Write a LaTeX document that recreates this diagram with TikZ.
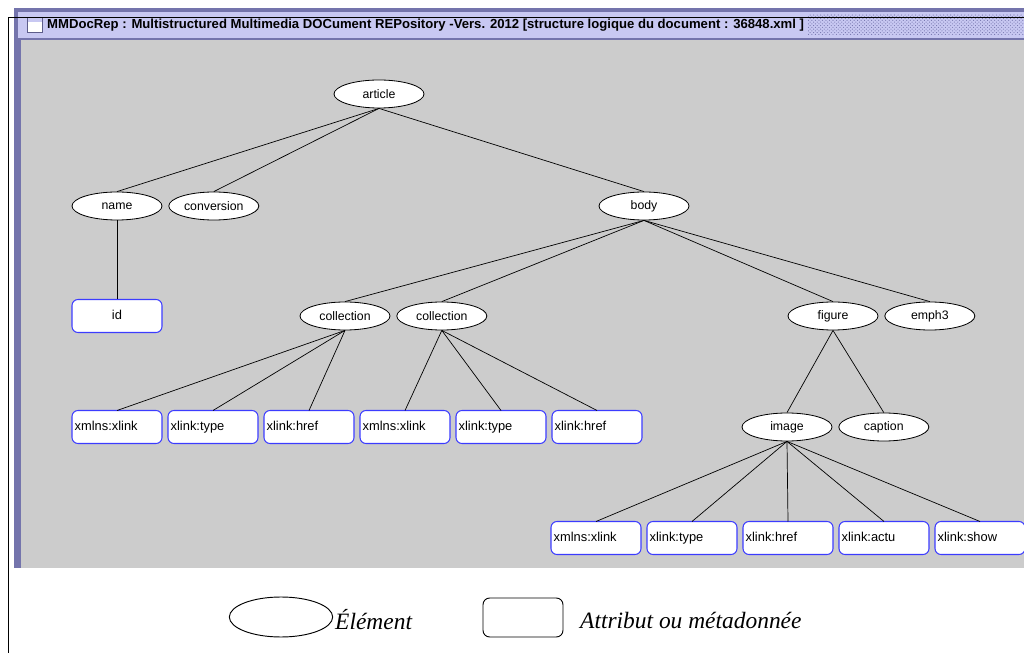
\documentclass[tikz,border=0pt]{standalone}
\usepackage{fontspec}
\setmainfont{Liberation Serif}
\setsansfont{Liberation Sans}
\usetikzlibrary{positioning,shapes.geometric,patterns}

\definecolor{wingray}{HTML}{CCCCCC}
\definecolor{winbar}{HTML}{C8C8F2}
\definecolor{winedge}{HTML}{7474AC}
\definecolor{attrblue}{HTML}{3C3CFF}

\begin{document}
\begin{tikzpicture}[
    x=0.03cm,y=-0.03cm,
    elem/.style={ellipse,draw,fill=white,line width=0.7pt,minimum width=2.7cm,minimum height=0.84cm,inner sep=0pt,font=\sffamily\fontsize{10.5}{12}\selectfont},
    attr/.style={rectangle,rounded corners=0.18cm,draw=attrblue,line width=0.9pt,fill=white,minimum width=2.7cm,minimum height=0.99cm,text width=2.54cm,inner xsep=0.08cm,outer sep=0pt,text height=1.6ex,text depth=0.4ex,align=left,font=\sffamily\fontsize{11}{12}\selectfont},
    link/.style={line width=0.6pt},
    legend/.style={font=\itshape\fontsize{20}{22}\selectfont,anchor=west,inner sep=0pt}
]
    \useasboundingbox (0,0) rectangle (1024,653);

    % Window
    \fill[winedge] (14,8) rectangle (1024,40);
    \fill[winedge] (14,8) rectangle (21.5,568);
    \fill[winbar] (18,12) rectangle (1024,38);
    \fill[pattern=crosshatch dots,pattern color=winedge] (808,15) rectangle (1024,35);
    \fill[wingray] (21,40) rectangle (1024,568);
    \draw[winedge!80!black,fill=white] (27,18) rectangle (42,32);
    \fill[winbar] (27.5,18.5) rectangle (41.5,22);
    \node[anchor=west,inner sep=0pt,font=\sffamily\bfseries\fontsize{11.2}{12}\selectfont] (title) at (47,25)
        {MMDocRep : Multistructured Multimedia DOCument REPository -Vers. 2012 [structure logique du document : 36848.xml ]};
    \draw[line width=0.8pt] (1024,17) -- (8,17) -- (8,653);

    % Nodes
    \node[elem] (article) at (379,94) {article};

    \node[elem] (name) at (117,206) {name};
    \node[elem,right=0.18cm of name] (conv) {conversion};
    \node[elem] (body) at (644,206) {body};

    \node[attr,align=center] (id) at (117,316) {id};
    \node[elem] (coll1) at (345,316) {collection};
    \node[elem,right=0.18cm of coll1] (coll2) {collection};
    \node[elem] (figure) at (833,316) {figure};
    \node[elem,right=0.18cm of figure] (emph) {emph3};

    \node[attr] (ns1) at (117,427) {xmlns:xlink};
    \node[attr,right=0.18cm of ns1] (type1) {xlink:type};
    \node[attr,right=0.18cm of type1] (href1) {xlink:href};
    \node[attr,right=0.18cm of href1] (ns2) {xmlns:xlink};
    \node[attr,right=0.18cm of ns2] (type2) {xlink:type};
    \node[attr,right=0.18cm of type2] (href2) {xlink:href};
    \node[elem] (image) at (787,427) {image};
    \node[elem,right=0.18cm of image] (caption) {caption};

    \node[attr] (ns3) at (596,538) {xmlns:xlink};
    \node[attr,right=0.18cm of ns3] (type3) {xlink:type};
    \node[attr,right=0.18cm of type3] (href3) {xlink:href};
    \node[attr,right=0.18cm of href3] (actu) {xlink:actu};
    \node[attr,right=0.18cm of actu] (show) {xlink:show};

    % Links
    \foreach \kid in {name,conv,body}
        \draw[link] (article.south) -- (\kid.north);
    \draw[link] (name.south) -- (id.north);
    \foreach \kid in {coll1,coll2,figure,emph}
        \draw[link] (body.south) -- (\kid.north);
    \foreach \kid in {ns1,type1,href1}
        \draw[link] (coll1.south) -- (\kid.north);
    \foreach \kid in {ns2,type2,href2}
        \draw[link] (coll2.south) -- (\kid.north);
    \foreach \kid in {image,caption}
        \draw[link] (figure.south) -- (\kid.north);
    \foreach \kid in {ns3,type3,href3,actu,show}
        \draw[link] (image.south) -- (\kid.north);

    % Legend
    \node[ellipse,draw,line width=0.8pt,minimum width=3.1cm,minimum height=1.2cm] (legelem) at (281,617) {};
    \node[legend] (legelemtxt) at (335,620) {Élément};
    \node[rectangle,draw,rounded corners=0.2cm,line width=0.8pt,minimum width=2.4cm,minimum height=1.17cm] (legattr) at (523,617.5) {};
    \node[legend] (legattrtxt) at (580,620) {Attribut ou métadonnée};
\end{tikzpicture}
\end{document}
